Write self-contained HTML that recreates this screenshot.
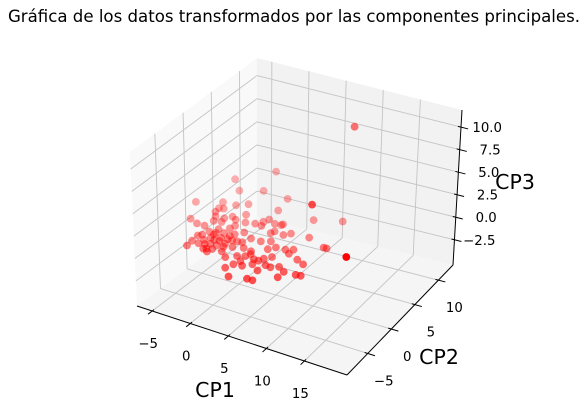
<!DOCTYPE html>
<html><head><meta charset="utf-8"><style>
html,body{margin:0;padding:0;background:#fff;}
svg{display:block;font-family:"DejaVu Sans","Liberation Sans",sans-serif;}
</style></head><body>
<svg id="chart" width="584" height="410" viewBox="0 0 584 410" xmlns="http://www.w3.org/2000/svg">
<text x="294" y="22" text-anchor="middle" font-size="16.6" fill="#000">Gráfica de los datos transformados por las componentes principales.</text>
<g id="panes"></g>
<g id="grid"></g>
<g id="axes"></g>
<g id="points"></g>
<text x="215" y="397" text-anchor="middle" font-size="20.5" fill="#000">CP1</text>
<text x="439" y="364" text-anchor="middle" font-size="20.5" fill="#000">CP2</text>
<text x="515" y="189" text-anchor="middle" font-size="20.5" fill="#000">CP3</text>
</svg>
<script>
// data (CP1, CP2, CP3)
const cp1 = [-4.5,-7.7,-5.7,-3.2,-8.5,-5.8,0.3,9.75,-5.4,-4.9,-3.0,-4.1,-5.3,0.8,-1.9,-6.8,-4.7,-3.0,-3.6,-5.6,-4.3,-3.4,-2.3,-1.0,-4.6,0.1,0.7,1.0,2.1,3.0,5.6,8.8,-4.0,-3.4,-2.8,-1.8,-1.8,-1.6,-1.5,-1.9,-0.7,-0.6,0.5,-3.9,-2.9,-1.8,-1.0,-0.4,0.7,-1.6,-1.2,0.2,-1.0,1.1,1.9,3.0,2.8,3.8,2.8,3.0,4.3,4.9,2.9,7.2,9.8,10.2,17.6,4.4,5.0,6.2,7.0,5.7,5.1,3.3,3.0,3.1,2.8,2.4,3.7,3.8,4.6,4.8,5.8,6.4,6.7,7.5,8.5,8.5,8.5,9.6,10.0,10.6,7.0,1.0,0.1,1.5,4.2,6.0,5.7,2.2,1.2,-1.9,-3.8,-3.0,-3.7,-2.6,-1.3,-0.9,-2.5,-0.2,-2.6,-0.1,-2.3,9.3];
const cp2 = [13.3,10.0,8.1,9.2,3.9,5.2,8.9,-0.3,3.9,4.1,6.1,5.3,3.1,6.4,4.1,0.6,2.3,3.1,2.4,0.1,1.4,1.6,2.7,2.7,0.1,3.0,3.7,4.4,3.9,4.2,6.4,7.5,-2.0,-0.7,0.2,-0.2,0.9,1.6,-1.2,-1.9,-1.1,0.1,-1.0,-3.2,-2.4,-2.8,-2.7,-2.0,-2.2,-3.8,-4.3,-3.5,-3.6,-0.9,-1.8,-2.0,0.2,0.7,2.1,2.6,2.4,3.0,4.0,3.2,2.2,2.2,-5.7,-0.8,-0.1,0.0,0.4,-1.9,-2.6,-2.5,-3.1,-4.2,-5.1,-6.1,-7.4,-4.9,-4.1,-3.2,-4.9,-6.8,-3.7,-3.2,-3.8,-5.0,-1.1,-1.6,-3.7,-3.6,-0.5,2.9,0.9,0.2,-3.2,-3.6,-6.8,-3.5,-4.3,-4.0,-4.3,-3.3,-1.6,-1.0,-1.8,-0.4,-1.7,-2.6,-0.6,-1.1,-3.1,8.6];
const cp3 = [0,0,0,0,0,0,0,6,0,0,0,0,0,0,0,0,0,0,0,0,0,0,0,0,0,0,0,0,0,0,0,0,0,0,0,0,0,0,0,0,0,0,0,0,0,0,0,0,0,0,0,0,0,0,0,0,0,0,0,0,0,0,0,0,0,0,5,0,0,0,0,0,0,0,0,0,0,0,0,0,0,0,0,0,0,0,0,0,0,0,0,0,0,0,0,0,0,0,0,0,0,0,0,0,0,0,0,0,0,0,0,0,0,10];
const xTicks = [-5,0,5,10,15];
const yTicks = [-5,0,5,10];
const zTicks = [-2.5,0,2.5,5,7.5,10];
const zTickLabels = ["−2.5","0.0","2.5","5.0","7.5","10.0"];
const xTickLabels = ["−5","0","5","10","15"];
const yTickLabels = ["−5","0","5","10"];

const XL=[-7,20.6], YL=[-9.4,13.1], ZL=[-5.3,11.9];
const C={"000":[137,306],"100":[347,375],"010":[257,217],"110":[453,265],
         "001":[130,152],"101":[356,220],"011":[257,58],"111":[462,110]};
function L(p,q,t){return [p[0]+(q[0]-p[0])*t,p[1]+(q[1]-p[1])*t];}
function projN(a,b,c){
  const b0=L(L(C["000"],C["100"],a),L(C["010"],C["110"],a),b);
  const t0=L(L(C["001"],C["101"],a),L(C["011"],C["111"],a),b);
  return L(b0,t0,c);
}
const nx=v=>(v-XL[0])/(XL[1]-XL[0]), ny=v=>(v-YL[0])/(YL[1]-YL[0]), nz=v=>(v-ZL[0])/(ZL[1]-ZL[0]);
function proj(x,y,z){return projN(nx(x),ny(y),nz(z));}
const NS="http://www.w3.org/2000/svg";
function mk(tag,attrs,parent){const e=document.createElementNS(NS,tag);for(const k in attrs)e.setAttribute(k,attrs[k]);parent.appendChild(e);return e;}
function poly(keys,fill,parent,name){
  const e=mk("polygon",{points:keys.map(k=>C[k].join(",")).join(" "),fill:fill},parent);
  
  
}
const panes=document.getElementById("panes");
poly(["000","010","011","001"],"#f9f9f9",panes,"left-pane");
poly(["010","110","111","011"],"#f2f2f2",panes,"back-pane");
poly(["000","100","110","010"],"#f5f5f5",panes,"floor-pane");
const grid=document.getElementById("grid");
function seg(p,q,parent,stroke,w,name){
  const e=mk("line",{x1:p[0],y1:p[1],x2:q[0],y2:q[1],stroke:stroke,"stroke-width":w},parent);
  
  
}
const GC="#c4c4c4";
xTicks.forEach(t=>{const a=nx(t);
  seg(projN(a,0,0),projN(a,1,0),grid,GC,0.9,"x-gridline");
  seg(projN(a,1,0),projN(a,1,1),grid,GC,0.9,"x-gridline");});
yTicks.forEach(t=>{const b=ny(t);
  seg(projN(0,b,0),projN(1,b,0),grid,GC,0.9,"y-gridline");
  seg(projN(0,b,0),projN(0,b,1),grid,GC,0.9,"y-gridline");});
zTicks.forEach(t=>{const c=nz(t);
  seg(projN(0,0,c),projN(0,1,c),grid,GC,0.9,"z-gridline");
  seg(projN(0,1,c),projN(1,1,c),grid,GC,0.9,"z-gridline");});
const axes=document.getElementById("axes");
seg(C["000"],C["100"],axes,"#000",1,"x-axis-line");
seg(C["100"],C["110"],axes,"#000",1,"y-axis-line");
seg(C["110"],C["111"],axes,"#000",1,"z-axis-line");
function label(txt,x,y,anchor,name){
  const e=mk("text",{x:x,y:y,"text-anchor":anchor,"font-size":13.3,fill:"#000"},axes);
  e.textContent=txt;
  
  
}
xTicks.forEach((t,i)=>{const a=nx(t);
  seg(projN(a,0.015,0),projN(a,-0.035,0),axes,"#000",1,"x-tick");
  const p=projN(a,0,0); label(xTickLabels[i],p[0]-4,p[1]+37,"middle","x-tick-label");});
yTicks.forEach((t,i)=>{const b=ny(t);
  seg(projN(0.985,b,0),projN(1.035,b,0),axes,"#000",1,"y-tick");
  const p=projN(1,b,0); label(yTickLabels[i],p[0]+16,p[1]+32,"middle","y-tick-label");});
zTicks.forEach((t,i)=>{const c=nz(t);
  seg(projN(0.985,1,c),projN(1.035,1,c),axes,"#000",1,"z-tick");
  const p=projN(1,1,c); label(zTickLabels[i],p[0]+41,p[1]+5,"end","z-tick-label");});
const pts=document.getElementById("points");
const depth=cp1.map((x,i)=>0.433*nx(x)-0.75*ny(cp2[i])+0.5*nz(cp3[i]));
const dmin=Math.min(...depth), dmax=Math.max(...depth);
const order=depth.map((d,i)=>i).sort((a,b)=>depth[a]-depth[b]);
order.forEach(i=>{
  const p=proj(cp1[i],cp2[i],cp3[i]);
  const n=(depth[i]-dmin)/(dmax-dmin);
  const al=0.3+0.7*n*n;
  const c=mk("circle",{cx:p[0].toFixed(1),cy:p[1].toFixed(1),r:3.9,fill:"#ff0000","fill-opacity":al.toFixed(2)},pts);
  
  
});
</script>
</body></html>
